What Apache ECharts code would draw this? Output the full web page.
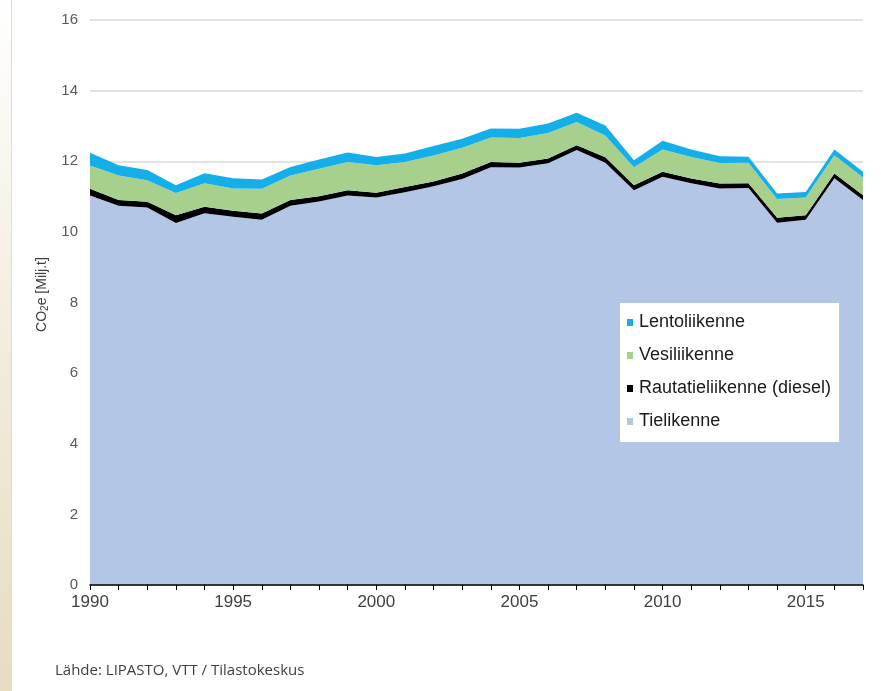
<!DOCTYPE html>
<html>
<head>
<meta charset="utf-8">
<script src="https://cdn.jsdelivr.net/npm/echarts@6/dist/echarts.min.js"></script>
<style>
html,body{margin:0;padding:0;background:#fff;}
#chart{width:881px;height:691px;}
</style>
</head>
<body>
<div id="chart"></div>
<script>
var years = ['1990','1991','1992','1993','1994','1995','1996','1997','1998','1999','2000','2001','2002','2003','2004','2005','2006','2007','2008','2009','2010','2011','2012','2013','2014','2015','2016','2017'];
var tielikenne = [11.03,10.74,10.69,10.25,10.53,10.43,10.34,10.74,10.86,11.03,10.97,11.12,11.29,11.50,11.83,11.82,11.94,12.32,11.96,11.18,11.56,11.38,11.23,11.24,10.26,10.34,11.52,10.90];
var rautatie = [0.19,0.16,0.16,0.22,0.18,0.17,0.18,0.16,0.15,0.15,0.14,0.15,0.14,0.15,0.15,0.14,0.14,0.13,0.15,0.14,0.14,0.13,0.14,0.14,0.14,0.13,0.13,0.14];
var vesiliikenne = [0.66,0.70,0.61,0.63,0.67,0.63,0.70,0.70,0.78,0.80,0.78,0.71,0.73,0.73,0.69,0.70,0.72,0.66,0.62,0.51,0.63,0.61,0.58,0.58,0.53,0.50,0.52,0.50];
var lentoliikenne = [0.36,0.29,0.29,0.22,0.28,0.29,0.26,0.24,0.26,0.27,0.23,0.24,0.27,0.26,0.26,0.26,0.27,0.26,0.28,0.20,0.25,0.21,0.19,0.17,0.16,0.16,0.16,0.16];
var yTicks = {min: 0, max: 16, interval: 2};
var seriesNames = ['Tielikenne','Rautatieliikenne (diesel)','Vesiliikenne','Lentoliikenne'];
var sourceText = 'Lähde: LIPASTO, VTT / Tilastokeskus';

var colors = ['#b4c6e5', '#000000', '#a8d08d', '#14aee8'];
var dataSets = [tielikenne, rautatie, vesiliikenne, lentoliikenne];

var chart = echarts.init(document.getElementById('chart'), null, {renderer: 'canvas'});
var series = seriesNames.map(function (name, i) {
  return {
    name: name,
    type: 'line',
    stack: 'total',
    data: dataSets[i],
    showSymbol: false,
    symbol: 'none',
    lineStyle: {width: 0},
    itemStyle: {color: colors[i]},
    areaStyle: {color: colors[i], opacity: 1},
    emphasis: {disabled: true},
    z: 2
  };
});

chart.setOption({
  animation: false,
  backgroundColor: '#ffffff',
  grid: {left: 90, right: 18, top: 20, bottom: 106},
  legend: {
    data: ['Lentoliikenne','Vesiliikenne','Rautatieliikenne (diesel)','Tielikenne'],
    orient: 'vertical',
    left: 620,
    top: 303,
    backgroundColor: '#ffffff',
    padding: [9, 8, 10, 7],
    itemWidth: 6,
    itemHeight: 7,
    itemGap: 12,
    icon: 'rect',
    textStyle: {fontFamily: 'Liberation Sans', fontSize: 18, color: '#1a1a1a', lineHeight: 21, padding: [0, 0, 0, 1]},
    z: 10
  },
  xAxis: {
    type: 'category',
    data: years,
    boundaryGap: false,
    axisLine: {show: true, lineStyle: {color: '#000', width: 1.5}},
    axisTick: {show: true, length: 5, interval: 0, lineStyle: {color: '#000'}},
    axisLabel: {
      interval: function (idx, val) { return (+val) % 5 === 0; },
      fontFamily: 'Liberation Sans', fontSize: 17, color: '#404040', margin: 9
    },
    splitLine: {show: false},
    z: 5
  },
  yAxis: {
    type: 'value',
    min: yTicks.min, max: yTicks.max, interval: yTicks.interval,
    axisLine: {show: false},
    axisTick: {show: false},
    axisLabel: {fontFamily: 'Liberation Sans', fontSize: 15, color: '#595959', margin: 12},
    splitLine: {lineStyle: {color: '#d9d9d9', width: 1.5}},
    name: '{a|CO}{s|2}{a|e [Milj.t]}',
    nameLocation: 'middle',
    nameRotate: 90,
    nameGap: 40,
    nameTextStyle: {
      padding: [0, 0, 0, 16],
      rich: {
        a: {fontFamily: 'Liberation Sans', fontSize: 14, color: '#404040'},
        s: {fontFamily: 'Liberation Sans', fontSize: 10, color: '#404040', padding: [6, 0, 0, 0]}
      }
    }
  },
  series: series,
  graphic: [
    {
      type: 'rect', left: 0, top: 0, z: -1,
      shape: {x: 0, y: 0, width: 11, height: 691},
      style: {fill: new echarts.graphic.LinearGradient(0, 0, 0, 1, [
        {offset: 0, color: '#ffffff'}, {offset: 0.45, color: '#f3eee0'}, {offset: 1, color: '#e6dcc0'}
      ])}
    },
    {
      type: 'rect', left: 11, top: 0, z: -1,
      shape: {x: 0, y: 0, width: 1, height: 691},
      style: {fill: '#dcdcdc'}
    },
    {
      type: 'text', left: 55, top: 663,
      style: {text: sourceText, fontFamily: 'Open Sans', fontSize: 15, fill: '#404040'}
    }
  ]
});
</script>
</body>
</html>
